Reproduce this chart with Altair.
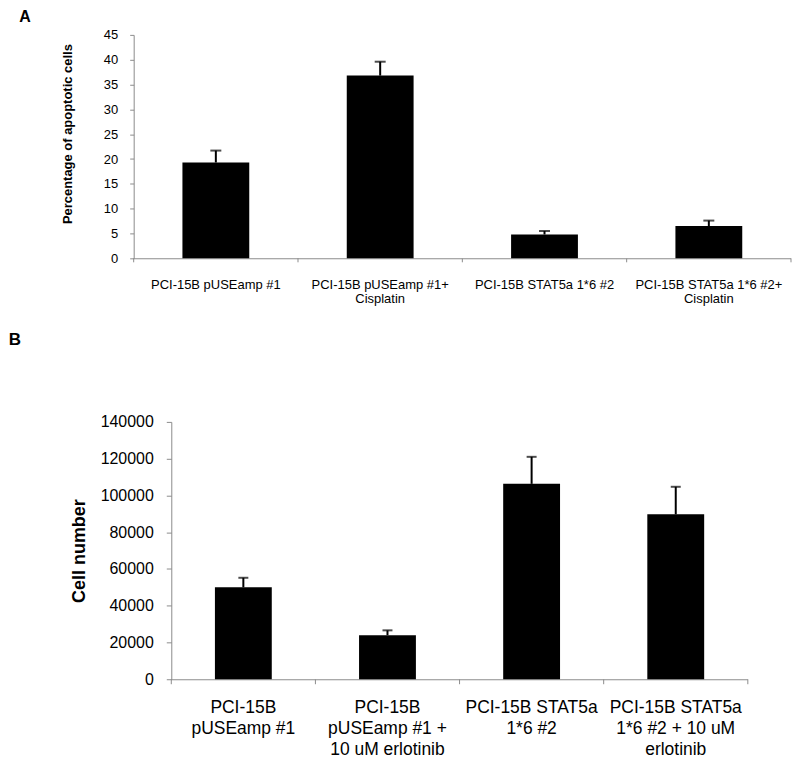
import altair as alt
import pandas as pd

FONT = "Liberation Sans"
GRAY = "#8c8c8c"

# Panel A data
cats_a = ["PCI-15B pUSEamp #1", "PCI-15B pUSEamp #1+\nCisplatin",
          "PCI-15B STAT5a 1*6 #2", "PCI-15B STAT5a 1*6 #2+\nCisplatin"]
vals_a = [19.3, 36.8, 4.8, 6.5]
errs_a = [2.4, 2.8, 0.7, 1.1]
yticks_a = [0, 5, 10, 15, 20, 25, 30, 35, 40, 45]

# Panel B data
cats_b = ["PCI-15B\npUSEamp #1", "PCI-15B\npUSEamp #1 +\n10 uM erlotinib",
          "PCI-15B STAT5a\n1*6 #2", "PCI-15B STAT5a\n1*6 #2 + 10 uM\nerlotinib"]
vals_b = [50000, 24000, 106300, 89700]
errs_b = [5200, 2600, 14700, 15000]
yticks_b = [0, 20000, 40000, 60000, 80000, 100000, 120000, 140000]


def panel(cats, vals, errs, yticks, ymax, ytitle, letter, lx, ly, lsize,
          w, h, inset, bar_size, cap_size, label_size, line_h, label_pad,
          ylab_size, ylab_pad, tick_size, title_size, title_x, title_y, fmt):
    df = pd.DataFrame({"cat": cats, "val": vals,
                       "top": [v + e for v, e in zip(vals, errs)]})
    n = len(cats)
    step = (w - inset) / n
    pout = inset / (2 * step)
    xscale = alt.Scale(domain=cats, paddingInner=0, paddingOuter=pout, align=1)
    xaxis = alt.Axis(title=None, labelAngle=0, ticks=False, domain=False,
                     labelExpr="split(datum.label, '\\n')",
                     labelFontSize=label_size, labelLineHeight=line_h,
                     labelPadding=label_pad, labelColor="black",
                     labelFont=FONT, labelLimit=0)
    yaxis_kw = dict(values=yticks, format=fmt, title=ytitle, grid=False,
                    labelFontSize=ylab_size, labelPadding=ylab_pad, labelFont=FONT,
                    labelColor="black", tickSize=tick_size, tickColor=GRAY,
                    domainColor=GRAY, titleFont=FONT, titleFontSize=title_size,
                    titleFontWeight="bold", titleColor="black", titleX=title_x,
                    titleBaseline="bottom", labelOverlap=False, offset=-inset)
    if title_y is not None:
        yaxis_kw["titleY"] = title_y
    yscale = alt.Scale(domain=[0, ymax], nice=False)
    yaxis = alt.Axis(**yaxis_kw)

    def X(**kw):
        return alt.X("cat:N", scale=xscale, axis=xaxis, **kw)

    def Y(f):
        return alt.Y(f + ":Q", scale=yscale, axis=yaxis)

    base = alt.Chart(df)
    # x-axis baseline: one 1-px gray segment per category band
    baseline = base.mark_bar(color=GRAY).encode(
        x=X(), y=alt.value(h), y2=alt.value(h + 1))
    bars = base.mark_bar(size=bar_size, color="black").encode(x=X(), y=Y("val"))
    err = base.mark_rule(color="black", strokeWidth=2).encode(
        x=X(), y=Y("val"), y2="top:Q")
    cap = base.mark_tick(color="black", size=cap_size, thickness=2).encode(
        x=X(), y=Y("top"))
    btick = base.mark_rule(color=GRAY).encode(
        x=X(bandPosition=0), y=alt.value(h), y2=alt.value(h + tick_size))
    etick = base.transform_filter(alt.datum.cat == cats[-1]).mark_rule(color=GRAY).encode(
        x=X(bandPosition=1), y=alt.value(h), y2=alt.value(h + tick_size))
    lab = alt.Chart(pd.DataFrame({"t": [letter]})).mark_text(
        align="left", baseline="alphabetic", font=FONT, fontSize=lsize,
        fontWeight="bold", color="black").encode(
        text="t:N", x=alt.value(lx), y=alt.value(ly))
    return alt.layer(baseline, bars, err, cap, btick, etick, lab).properties(width=w, height=h)


# both plot areas start at x=133; panel B's axis and bands are inset by 37.7 px
chart_a = panel(cats_a, vals_a, errs_a, yticks_a, 45, "Percentage of apoptotic cells",
                "A", -114.7, -13, 16,
                659, 224, 0, 67, 11, 13, 14, 20,
                13, 12, 4, 13, -59, 99, "d")
chart_b = panel(cats_b, vals_b, errs_b, yticks_b, 140000, "Cell number",
                "B", -125.3, -76.7, 17,
                615.7, 258, 37.7, 57, 10, 17.5, 21, 19,
                16, 13, 5, 18, -83, None, "d")

chart = alt.vconcat(
    chart_a,
    chart_b,
    spacing=26,
).properties(padding={"left": 0, "top": 0, "right": 0, "bottom": 0}).configure_view(stroke=None)

chart.save("out.html", embed_options={"renderer": "svg", "actions": False})
